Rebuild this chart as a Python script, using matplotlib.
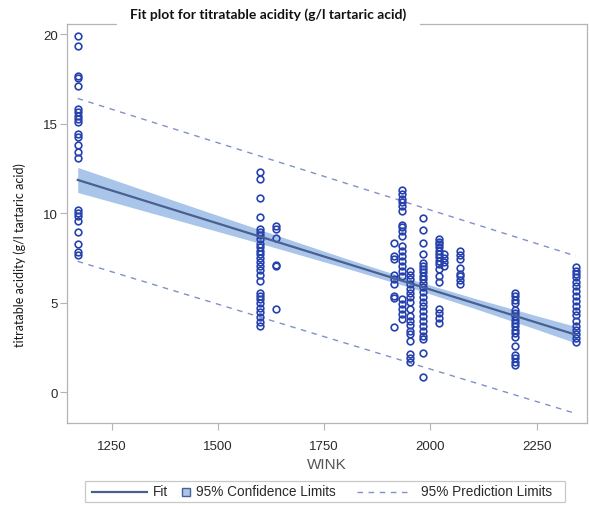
import matplotlib
matplotlib.use("Agg")
import matplotlib.pyplot as plt
from matplotlib.lines import Line2D
from matplotlib.patches import Rectangle

# ---------------- data ----------------
wink_levels = [1170, 1600, 1636, 1914, 1932, 1952, 1983, 2020, 2032, 2070, 2200, 2342]

acid_1170 = [19.87, 19.35, 17.67, 17.52, 17.11, 15.81, 15.62, 15.44, 15.25, 15.07,
             14.41, 14.23, 13.8, 13.39, 13.05, 10.19, 10.0, 9.81, 9.57, 8.92, 8.27, 7.8, 7.65]
acid_1600 = [12.27, 11.90, 10.82, 9.76, 9.11, 8.96, 8.77, 8.55, 8.27, 8.08, 7.89, 7.71,
             7.47, 7.25, 7.02, 6.83, 6.54, 6.22, 5.56, 5.38, 5.2, 4.97, 4.68, 4.45, 4.17, 3.89, 3.70]
acid_1636 = [9.3, 9.1, 8.58, 7.09, 7.02, 4.64]
acid_1914 = [8.32, 7.58, 7.43, 6.54, 6.31, 6.03, 5.38, 5.23, 3.61]
acid_1932 = [11.3, 11.06, 10.78, 10.6, 10.37, 10.13, 9.33, 9.2, 9.01, 8.74, 8.14, 7.89,
             7.61, 7.33, 7.05, 6.78, 6.5, 5.2, 4.92, 4.64, 4.36, 4.08]
acid_1952 = [6.78, 6.54, 6.31, 6.03, 5.75, 5.53, 5.29, 5.05, 4.64, 4.26, 3.98, 3.74,
             3.42, 3.24, 2.87, 2.12, 1.88, 1.69]
acid_1983 = [9.7, 9.07, 8.32, 7.71, 7.21, 7.05, 6.87, 6.69, 6.5, 6.31, 6.09, 5.85, 5.57,
             5.29, 5.05, 4.82, 4.54, 4.26, 3.98, 3.70, 3.42, 3.15, 2.96, 2.16, 0.82]
acid_2020 = [8.55, 8.40, 8.27, 8.08, 7.89, 7.71, 7.52, 7.33, 7.15, 6.87, 6.5, 6.16,
             4.64, 4.41, 4.12, 3.85]
acid_2032 = [7.71, 7.47, 7.25, 7.02]
acid_2070 = [7.89, 7.65, 7.43, 6.91, 6.59, 6.46, 6.27, 6.03]
acid_2200 = [5.51, 5.34, 5.16, 4.97, 4.6, 4.41, 4.23, 4.04, 3.85, 3.67, 3.48, 3.30,
             3.05, 2.55, 2.07, 1.88, 1.69, 1.51]
acid_2342 = [6.97, 6.78, 6.59, 6.41, 6.16, 5.94, 5.66, 5.38, 5.1, 4.82, 4.54, 4.3,
             3.98, 3.70, 3.48, 3.24, 3.0, 2.78]

acid_groups = [acid_1170, acid_1600, acid_1636, acid_1914, acid_1932, acid_1952,
               acid_1983, acid_2020, acid_2032, acid_2070, acid_2200, acid_2342]

# fit line and limits
fit_x = [1170, 2342]
fit_y = [11.85, 3.2]
pred_upper = [16.4, 7.6]
pred_lower = [7.3, -1.2]
band_x = [1170, 1400, 1600, 1800, 1950, 2100, 2250, 2342]
conf_lower = [11.15, 9.63, 8.30, 6.93, 5.86, 4.70, 3.50, 2.74]
conf_upper = [12.55, 10.67, 9.06, 7.47, 6.32, 5.26, 4.26, 3.66]

x_ticks = [1250, 1500, 1750, 2000, 2250]
y_ticks = [0, 5, 10, 15, 20]

title = "Fit plot for titratable acidity (g/l tartaric acid)"
x_label = "WINK"
y_label = "titratable acidity (g/l tartaric acid)"
legend_labels = ["Fit", "95% Confidence Limits", "95% Prediction Limits"]

# ---------------- styling ----------------
W, H = 589, 506
point_color = "#2742ad"
fit_color = "#4a6090"
band_color = "#a9c6ea"
pred_color = "#8190cc"
frame_color = "#b4b4b4"
text_color = "#2a2a2a"

fig = plt.figure(figsize=(W / 100, H / 100), dpi=100)
fig.patch.set_facecolor("white")

L, R, T, B = 67.3, 587.0, 25.0, 424.0
ax = fig.add_axes([L / W, 1 - B / H, (R - L) / W, (B - T) / H])

ax.fill_between(band_x, conf_lower, conf_upper, color=band_color, lw=0, zorder=1)
ax.plot(fit_x, pred_upper, color=pred_color, lw=1.0, ls=(0, (4, 4)), zorder=2)
ax.plot(fit_x, pred_lower, color=pred_color, lw=1.0, ls=(0, (4, 4)), zorder=2)
for xv, ys in zip(wink_levels, acid_groups):
    ax.plot([xv] * len(ys), ys, ls="none", marker="o", ms=4.8, mfc="none",
            mec=point_color, mew=1.2, zorder=3)
ax.plot(fit_x, fit_y, color=fit_color, lw=1.6, zorder=4)

ax.set_xlim(1145.5, 2368.4)
ax.set_ylim(-1.73, 20.56)
ax.set_xticks(x_ticks)
ax.set_yticks(y_ticks)
tick_font = dict(family="Liberation Sans", size=9.5)
ax.set_xticklabels([str(v) for v in x_ticks], color=text_color, **tick_font)
ax.set_yticklabels([str(v) for v in y_ticks], color=text_color, **tick_font)
ax.tick_params(axis="both", direction="out", length=5, width=0.8, color=frame_color)
ax.tick_params(axis="x", pad=7)
ax.tick_params(axis="y", pad=2)
for s in ax.spines.values():
    s.set_color(frame_color)
    s.set_linewidth(0.9)

fig.text(327 / W, 1 - 465 / H, x_label, ha="center", va="center",
         family="Liberation Sans", size=11, color="#555555")
fig.text(20 / W, 1 - 255 / H, y_label, ha="center", va="center", rotation=90,
         family="Lato", size=9, color="#1a1a1a")

# ---------------- legend / title (figure pixel coordinates) ----------------
def fx(p):
    return p / W

def fy(p):
    return 1 - p / H

# white gap in the top frame line behind the title
fig.patches.append(Rectangle((fx(117), fy(28)), fx(420) - fx(117), fy(21) - fy(28),
                             transform=fig.transFigure, facecolor="white",
                             edgecolor="none", zorder=5))
fig.text(268 / W, 1 - 15 / H, title, ha="center", va="center",
         family="Lato", weight="bold", size=10, color="#111111", zorder=10)

ly = 492.5
fig.patches.append(Rectangle((fx(85), fy(503.3)), fx(565) - fx(85), fy(481.7) - fy(503.3),
                             transform=fig.transFigure, fill=False,
                             edgecolor="#c8c8c8", lw=0.9))
fig.lines.append(Line2D([fx(92), fx(147)], [fy(ly), fy(ly)], transform=fig.transFigure,
                        color=fit_color, lw=1.6))
fig.text(fx(153), fy(ly), legend_labels[0], ha="left", va="center",
         family="Liberation Sans", size=9.8, color=text_color)
fig.patches.append(Rectangle((fx(182), fy(ly + 4)), fx(190) - fx(182), fy(ly - 4) - fy(ly + 4),
                             transform=fig.transFigure, facecolor=band_color,
                             edgecolor=fit_color, lw=1.0))
fig.text(fx(196), fy(ly), legend_labels[1], ha="left", va="center",
         family="Liberation Sans", size=9.8, color=text_color)
fig.lines.append(Line2D([fx(357), fx(410)], [fy(ly), fy(ly)], transform=fig.transFigure,
                        color=pred_color, lw=1.0, ls=(0, (4, 4))))
fig.text(fx(421), fy(ly), legend_labels[2], ha="left", va="center",
         family="Liberation Sans", size=9.8, color=text_color)

fig.savefig("out.png", dpi=100, facecolor="white")
